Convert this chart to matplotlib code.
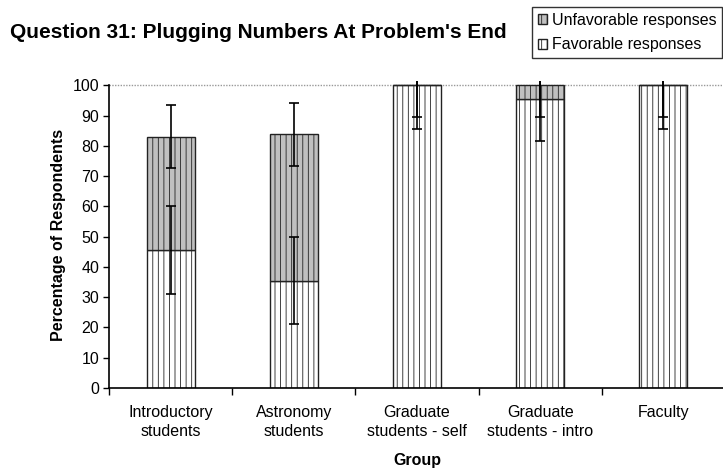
import matplotlib
matplotlib.use("Agg")
import matplotlib.pyplot as plt
import numpy as np

plt.rcParams['font.family'] = ['Liberation Sans', 'DejaVu Sans']
plt.rcParams['hatch.linewidth'] = 0.6

groups = ["Introductory\nstudents", "Astronomy\nstudents", "Graduate\nstudents - self",
          "Graduate\nstudents - intro", "Faculty"]
favorable = [45.5, 35.5, 100.0, 95.6, 100.0]
unfavorable = [37.5, 48.3, 0.0, 4.4, 0.0]
fav_err = [14.5, 14.4, 10.5, 6.1, 10.5]
unfav_err = [10.4, 10.5, 14.3, 18.4, 14.3]

fig = plt.figure(figsize=(7.23, 4.72), dpi=100)
ax = fig.add_axes([0.1508, 0.178, 0.852, 0.6496])

x = np.arange(len(groups))
w = 0.39
totals = np.array(favorable) + np.array(unfavorable)

ax.bar(x, favorable, w, color="white", edgecolor="#222222", linewidth=1.0,
       hatch="|||", label="Favorable responses", zorder=2)
ax.bar(x, unfavorable, w, bottom=favorable, color="#c0c0c0", edgecolor="#222222",
       linewidth=1.0, hatch="|||", label="Unfavorable responses", zorder=2)

ax.errorbar(x, favorable, yerr=fav_err, fmt="none", ecolor="black",
            elinewidth=1.2, capsize=3.5, capthick=1.2, zorder=3)
ax.errorbar(x, totals, yerr=unfav_err, fmt="none", ecolor="black",
            elinewidth=1.2, capsize=3.5, capthick=1.2, zorder=3)

ax.set_xlim(-0.5, len(groups) - 0.5)
ax.set_ylim(0, 101.3)
ax.axhline(100, color="#999999", linestyle=(0, (1, 1)), linewidth=1.0, zorder=1)
ax.spines["top"].set_visible(False)
ax.spines["right"].set_visible(False)
ax.spines["left"].set_bounds(0, 100)
ax.spines["left"].set_linewidth(1.2)
ax.spines["bottom"].set_linewidth(1.2)

ax.set_yticks(np.arange(0, 101, 10))
ax.tick_params(axis="y", length=4, width=1, labelsize=11.5, pad=3)
ax.set_xticks(x)
ax.set_xticklabels(groups, fontsize=11.5, linespacing=1.4)
ax.set_xticks(np.arange(-0.5, len(groups), 1.0), minor=True)
ax.tick_params(axis="x", which="major", length=0, pad=12)
ax.tick_params(axis="x", which="minor", length=5, width=1)

ax.set_ylabel("Percentage of Respondents", fontsize=11.5, fontweight="bold", labelpad=5)
ax.set_xlabel("Group", fontsize=11.5, fontweight="bold", labelpad=10)

fig.text(0.014, 0.932, "Question 31: Plugging Numbers At Problem's End",
         fontsize=15, fontweight="bold", va="center", ha="left")

handles, labels = ax.get_legend_handles_labels()
fig.legend(handles[::-1], labels[::-1], loc="upper left", bbox_to_anchor=(0.736, 0.985),
           fontsize=11.5, frameon=True, fancybox=False, edgecolor="black",
           handlelength=0.6, handleheight=0.6, handletextpad=0.3,
           borderpad=0.35, labelspacing=0.6, borderaxespad=0)

fig.savefig("out.png", dpi=100)
